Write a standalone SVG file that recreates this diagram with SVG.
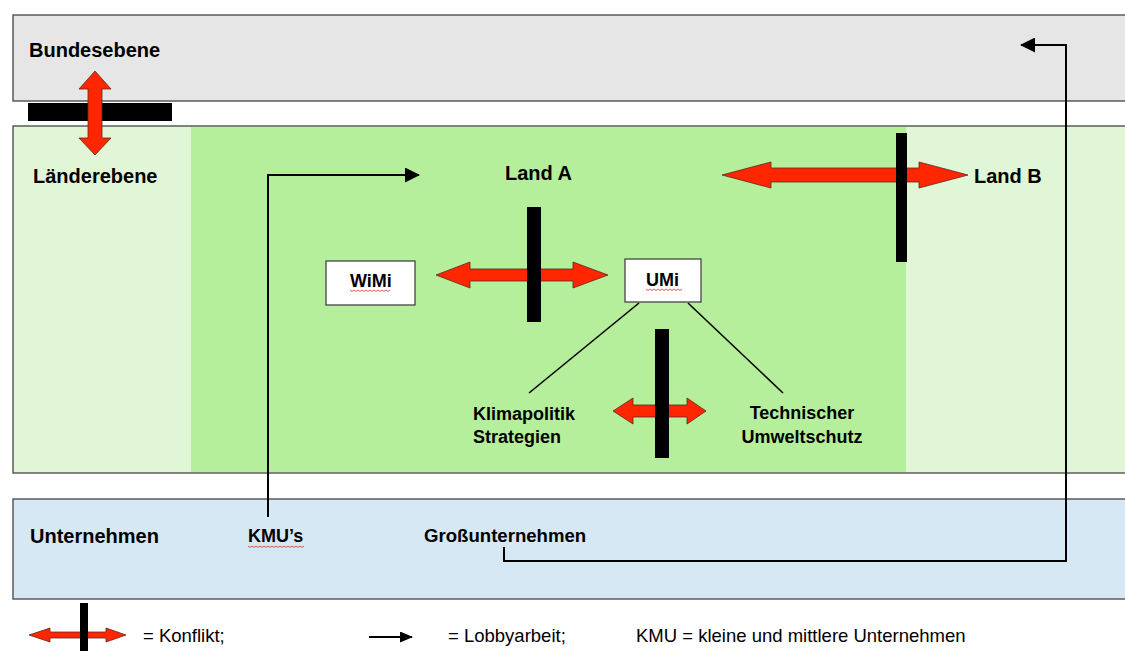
<svg xmlns="http://www.w3.org/2000/svg" width="1125" height="651" viewBox="0 0 1125 651">
<style>
.band{stroke:#444;stroke-width:1.3}
.lbl{font-family:"Liberation Sans",Arial,sans-serif;font-weight:bold;fill:#000}
.leg{font-family:"Liberation Sans",Arial,sans-serif;font-size:18.5px;fill:#000}
.conf{fill:#ff2600;stroke:#5a2a20;stroke-width:0.8}
.bar{fill:#000}
.con{fill:none;stroke:#000;stroke-width:2}
.box{fill:#fff;stroke:#444;stroke-width:1.3}
.sq{fill:none;stroke:#e03020;stroke-width:0.8}
</style>
<defs>
<marker id="ah" markerWidth="15" markerHeight="15" refX="14" refY="7.5" orient="auto" markerUnits="userSpaceOnUse">
<path d="M0,0 L15,7.5 L0,15 Z" fill="#000"/>
</marker>
<marker id="ahs" markerWidth="13" markerHeight="11" refX="12" refY="5.5" orient="auto" markerUnits="userSpaceOnUse">
<path d="M0,0 L13,5.5 L0,11 Z" fill="#000"/>
</marker>
</defs>
<rect width="1125" height="651" fill="#fff"/>

<g id="bundesebene">
<rect class="band" x="13" y="15" width="1130" height="86" fill="#e6e6e6"/>
<text class="lbl" x="29" y="57" font-size="20">Bundesebene</text>
</g>

<g id="laenderebene">
<rect class="band" x="13" y="126" width="1130" height="347" fill="#e1f6d7"/>
<rect x="191" y="127" width="715" height="345" fill="#b6ef9c"/>
<text class="lbl" x="33" y="183" font-size="20">Länderebene</text>
</g>

<g id="landA">
<text class="lbl" x="505" y="180" font-size="20">Land A</text>
</g>
<g id="landB">
<text class="lbl" x="974" y="183" font-size="20">Land B</text>
</g>

<g id="wimi">
<rect class="box" x="326" y="261" width="89" height="44"/>
<text class="lbl" x="350" y="287" font-size="18">WiMi</text>
<path class="sq" d="M350,290 l2,1.5 l2,-1.5 l2,1.5 l2,-1.5 l2,1.5 l2,-1.5 l2,1.5 l2,-1.5 l2,1.5 l2,-1.5 l2,1.5 l2,-1.5 l2,1.5 l2,-1.5 l2,1.5 l2,-1.5 l2,1.5 l2,-1.5 l2,1.5 l2,-1.5"/>
</g>

<g id="umi">
<rect class="box" x="625" y="259" width="76" height="43"/>
<text class="lbl" x="646" y="286" font-size="18">UMi</text>
<path class="sq" d="M646,289 l2,1.5 l2,-1.5 l2,1.5 l2,-1.5 l2,1.5 l2,-1.5 l2,1.5 l2,-1.5 l2,1.5 l2,-1.5 l2,1.5 l2,-1.5 l2,1.5 l2,-1.5 l2,1.5 l2,-1.5 l2,1.5 l2,-1.5"/>
</g>

<g id="klimapolitik">
<text class="lbl" x="473" y="420" font-size="18">Klimapolitik</text>
<text class="lbl" x="473" y="443" font-size="18">Strategien</text>
</g>

<g id="umweltschutz">
<text class="lbl" x="802" y="419" font-size="18" text-anchor="middle">Technischer</text>
<text class="lbl" x="802" y="443" font-size="18" text-anchor="middle">Umweltschutz</text>
</g>

<g id="unternehmen">
<rect class="band" x="13" y="499" width="1130" height="100" fill="#d7e8f5"/>
<text class="lbl" x="30" y="543" font-size="20">Unternehmen</text>
</g>
<g id="kmu">
<text class="lbl" x="248" y="542" font-size="18">KMU’s</text>
<path class="sq" d="M248,546 l2,1.5 l2,-1.5 l2,1.5 l2,-1.5 l2,1.5 l2,-1.5 l2,1.5 l2,-1.5 l2,1.5 l2,-1.5 l2,1.5 l2,-1.5 l2,1.5 l2,-1.5 l2,1.5 l2,-1.5 l2,1.5 l2,-1.5 l2,1.5 l2,-1.5 l2,1.5 l2,-1.5 l2,1.5 l2,-1.5 l2,1.5 l2,-1.5 l2,1.5 l2,-1.5"/>
</g>
<g id="grossunternehmen">
<text class="lbl" x="424" y="542" font-size="18.6">Großunternehmen</text>
</g>

<g id="connectors">
<path class="con" d="M268,517 V175 H419" marker-end="url(#ah)"/>
<path class="con" d="M504,547 V561 H1066 V45 H1021" marker-end="url(#ah)"/>
<line x1="639" y1="303" x2="529" y2="393" stroke="#000" stroke-width="1.6"/>
<line x1="688" y1="303" x2="783" y2="393" stroke="#000" stroke-width="1.6"/>
</g>

<g id="conflicts">
<rect class="bar" x="28" y="103" width="144" height="18"/>
<polygon class="conf" points="95,71 111,89 102,89 102,138 111,138 95,155 79,138 88,138 88,89 79,89"/>

<polygon class="conf" points="436,275 470,262 470,269 573,269 573,262 608,275 573,288 573,281 470,281 470,288"/>
<rect class="bar" x="527" y="207" width="14" height="115"/>

<polygon class="conf" points="722,175 771,162 771,168 919,168 919,162 968,175 919,188 919,182 771,182 771,188"/>
<rect class="bar" x="896" y="133" width="11" height="129"/>

<polygon class="conf" points="613,411 633,398 633,405 687,405 687,398 706,411 687,424 687,417 633,417 633,424"/>
<rect class="bar" x="655" y="329" width="14" height="129"/>
</g>

<g id="legend">
<polygon class="conf" points="29,635 50,628 50,632 106,632 106,628 126,635 106,642 106,638 50,638 50,642"/>
<rect class="bar" x="80" y="603" width="8" height="48"/>
<text class="leg" x="143" y="642">= Konflikt;</text>
<line x1="369" y1="637" x2="412" y2="637" stroke="#000" stroke-width="2" marker-end="url(#ahs)"/>
<text class="leg" x="448" y="642">= Lobbyarbeit;</text>
<text class="leg" x="636" y="642">KMU = kleine und mittlere Unternehmen</text>
</g>
</svg>
